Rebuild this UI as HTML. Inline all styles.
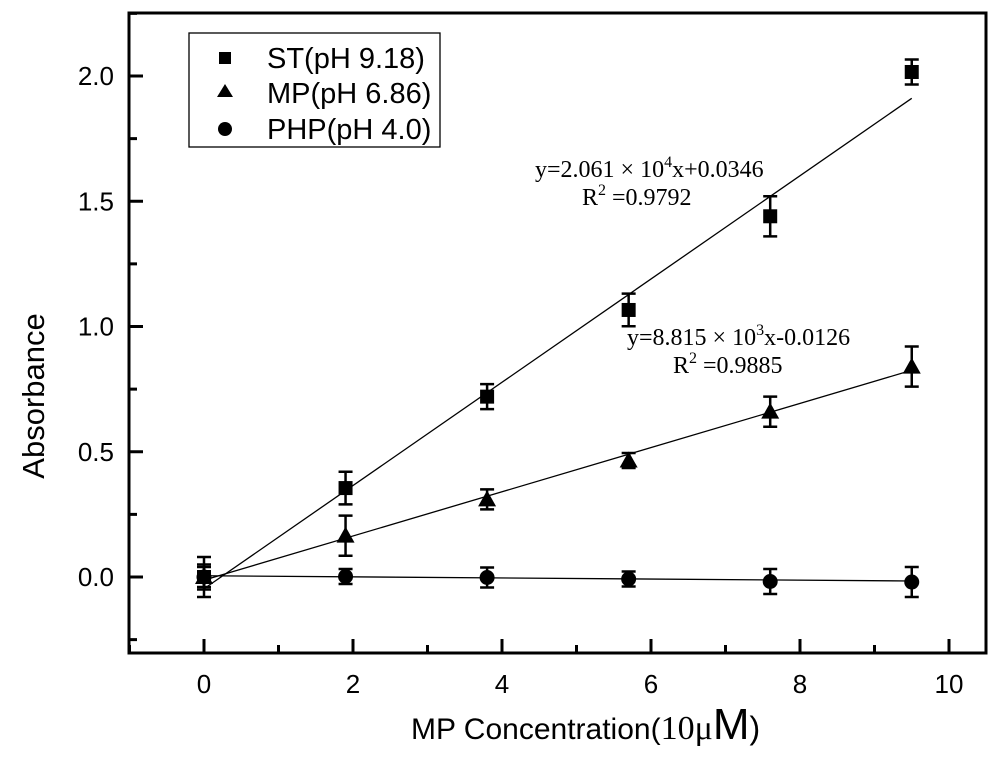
<!DOCTYPE html>
<html><head><meta charset="utf-8"><style>
body{margin:0;background:#fff;}
svg{display:block;}
.s{font-family:"Liberation Sans",sans-serif;}
.r{font-family:"Liberation Serif",serif;}
</style></head><body>
<svg id="chart" width="1000" height="765" xmlns="http://www.w3.org/2000/svg">
<g id="plot"></g>
</svg>
<script>
const xs=[0,1.9,3.8,5.7,7.6,9.5];
const stVals=[0,0.355,0.72,1.066,1.44,2.016];
const stErr=[0.08,0.065,0.05,0.065,0.08,0.05];
const mpVals=[0,0.165,0.31,0.465,0.66,0.84];
const mpErr=[0.05,0.08,0.04,0.03,0.06,0.08];
const phpVals=[0,0.002,-0.002,-0.008,-0.018,-0.02];
const phpErr=[0.04,0.03,0.04,0.03,0.05,0.06];
const stFit=[0.2061,-0.047];
const mpFit=[0.0882,-0.0126];
const phpFit=[-0.0022,0.005];
const xTicks=[0,2,4,6,8,10];
const yTicks=[0,0.5,1.0,1.5,2.0];
const yTickLabels=["0.0","0.5","1.0","1.5","2.0"];

const L=129,R=986,T=13,B=653;
const X=v=>204+v*74.5;
const Y=v=>577-v*250.5;
const NS="http://www.w3.org/2000/svg";
const g=document.getElementById('plot');
function mk(tag,attrs,parent){const e=document.createElementNS(NS,tag);for(const k in attrs)e.setAttribute(k,attrs[k]);(parent||g).appendChild(e);return e;}

const frame=mk('rect',{x:L,y:T,width:R-L,height:B-T,fill:'none',stroke:'#000','stroke-width':3});



for(let v=-1;v<=10.5;v+=1){
  if(X(v)<=L||X(v)>=R)continue;
  const major=Number.isInteger(v/2);
  const t=mk('line',{x1:X(v),x2:X(v),y1:B,y2:B-(major?14:8),stroke:'#000','stroke-width':3});
  
  
}
xTicks.forEach(v=>{
  const t=mk('text',{x:X(v),y:B+40,'text-anchor':'middle','font-size':26,class:'s'});
  t.textContent=v;
  
  
});
for(let v=-0.25;v<=2.25;v+=0.25){
  if(Y(v)>=B||Y(v)<=T)continue;
  const major=Math.abs(Math.round(v*2)-v*2)<1e-6;
  const t=mk('line',{x1:L,x2:L+(major?14:8),y1:Y(v),y2:Y(v),stroke:'#000','stroke-width':3});
  
  
}
yTicks.forEach((v,i)=>{
  const t=mk('text',{x:L-15,y:Y(v)+9,'text-anchor':'end','font-size':26,class:'s'});
  t.textContent=yTickLabels[i];
  
  
});

function fit(f,name){
  const l=mk('line',{x1:X(0),y1:Y(f[1]),x2:X(9.5),y2:Y(f[0]*9.5+f[1]),stroke:'#000','stroke-width':1.3});
  
  
}
fit(stFit,'st-fit-line');fit(mpFit,'mp-fit-line');fit(phpFit,'php-fit-line');

function series(vals,err,shape,name){
  vals.forEach((v,i)=>{
    const cx=X(xs[i]),cy=Y(v),e=err[i]*250.5;
    const eb=mk('path',{d:`M${cx},${cy-e}V${cy+e}M${cx-7},${cy-e}H${cx+7}M${cx-7},${cy+e}H${cx+7}`,stroke:'#000','stroke-width':2.5,fill:'none'});
    
    
    let m;
    if(shape==='sq')m=mk('rect',{x:cx-7,y:cy-7,width:14,height:14,fill:'#000'});
    else if(shape==='tri')m=mk('path',{d:`M${cx},${cy-9}L${cx+9},${cy+7}L${cx-9},${cy+7}Z`,fill:'#000'});
    else m=mk('circle',{cx:cx,cy:cy,r:7.5,fill:'#000'});
    
    
  });
}
series(phpVals,phpErr,'ci','php');
series(mpVals,mpErr,'tri','mp');
series(stVals,stErr,'sq','st');
</script>
<svg width="1000" height="765" style="position:absolute;left:0;top:0" xmlns="http://www.w3.org/2000/svg">
<g>
<rect x="189" y="33" width="251" height="114" fill="#fff" stroke="#000" stroke-width="1.3"/>
<rect x="219" y="52" width="12" height="12" fill="#000"/>
<text x="267" y="68" font-size="29" class="s">ST(pH 9.18)</text>
<path d="M225,84L233,97L217,97Z" fill="#000"/>
<text x="267" y="103" font-size="29" class="s">MP(pH 6.86)</text>
<circle cx="225" cy="129" r="7" fill="#000"/>
<text x="267" y="139" font-size="29" class="s">PHP(pH 4.0)</text>
</g>
<text x="535" y="177" font-size="24" class="r">y=2.061 × 10<tspan dy="-10" font-size="16">4</tspan><tspan dy="10">x+0.0346</tspan></text>
<text x="582" y="205" font-size="24" class="r">R<tspan dy="-10" font-size="16">2</tspan><tspan dy="10"> =0.9792</tspan></text>
<text x="627" y="345" font-size="24" class="r">y=8.815 × 10<tspan dy="-10" font-size="16">3</tspan><tspan dy="10">x-0.0126</tspan></text>
<text x="673" y="373" font-size="24" class="r">R<tspan dy="-10" font-size="16">2</tspan><tspan dy="10"> =0.9885</tspan></text>
<text transform="translate(44,396) rotate(-90)" text-anchor="middle" font-size="31" class="s">Absorbance</text>
<text x="411" y="739" font-size="30" class="s">MP Concentration(<tspan class="r" font-size="34">10μ</tspan><tspan class="s" font-size="44">M</tspan><tspan class="s" font-size="32">)</tspan></text>
</svg>
</body></html>
